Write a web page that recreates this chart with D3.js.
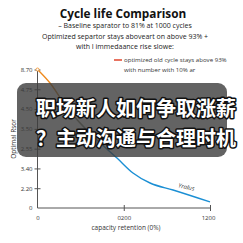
<!DOCTYPE html>
<html><head><meta charset="utf-8">
<script src="https://cdn.jsdelivr.net/npm/d3@7"></script>
<style>html,body{margin:0;padding:0;background:#fff;}svg{display:block;}</style>
</head><body>
<svg id="c" width="243" height="243"></svg>
<script>
const titleText = "Cycle life Comparison";
const subtitleLines = ["– Baseline sparator to 81% at 1000 cycles", "Optimized separtor stays aboveart on above 93% +", "with I immedaance rise slowe:"];
const legendLines = ["optimized old cycle stays above 93%", "with number with 10% ar"];
const yTickLabels = ["0", "2.20", "3.40", "2.55", "3.50", "4.50", "4.75", "8.70"];
const xTickValues = [0, 600, 1200];
const xTickLabels = ["0", "0200", "1200"];
const cycles = [0, 87, 205, 414, 553, 664, 783, 943, 1200];
const resistance = [8.7, 7.85, 6.3, 4.27, 3.14, 2.2, 1.57, 1.13, 0.38];
const xLabel = "capacity retention (0%)";
const yLabel = "Optimal Rsor";
const curveLabel = "Yralus";
const overlayLines = ["职场新人如何争取涨薪", "？主动沟通与合理时机"];

const svg = d3.select("#c");
const font = "'Open Sans', 'Noto Sans', sans-serif";
const x = d3.scaleLinear().domain([0, 1200]).range([37.5, 210]);
const y = d3.scaleLinear().domain([0, 8.7]).range([208, 69.5]);
const yTickValues = yTickLabels.map((d, i) => i * 8.7 / (yTickLabels.length - 1));

// title
svg.append("text").attr("x", 123).attr("y", 18).attr("text-anchor", "middle")
  .attr("font-family", font).attr("font-weight", "bold").attr("font-size", 11.8).attr("fill", "#111").text(titleText);
const subY = [27.5, 39, 49];
subtitleLines.forEach((t, i) => svg.append("text").attr("x", 125).attr("y", subY[i]).attr("text-anchor", "middle")
  .attr("font-family", font).attr("font-size", 7).attr("fill", "#222").text(t));

// legend
svg.append("line").attr("x1", 114).attr("x2", 122).attr("y1", 60).attr("y2", 60).attr("stroke", "#e0442c").attr("stroke-width", 1.5);
legendLines.forEach((t, i) => svg.append("text").attr("x", 124).attr("y", 62 + i * 10)
  .attr("font-family", font).attr("font-size", 6.1).attr("fill", "#333").text(t));

// axes
const yAxis = d3.axisLeft(y).tickValues(yTickValues).tickFormat((d, i) => yTickLabels[i]).tickSize(3).tickPadding(2);
const gy = svg.append("g").attr("transform", "translate(37.5,0)").call(yAxis);
const xAxis = d3.axisBottom(x).tickValues(xTickValues).tickFormat((d, i) => xTickLabels[i]).tickSize(3).tickPadding(5);
const gx = svg.append("g").attr("transform", "translate(0,208)").call(xAxis);
[gx, gy].forEach(g => {
  g.select(".domain").attr("stroke", "#555");
  g.selectAll(".tick line").attr("stroke", "#555");
  g.selectAll("text").attr("font-family", font).attr("font-size", 6).attr("fill", "#333");
});
gy.selectAll(".tick line").attr("x1", 3).attr("x2", -3);
gy.selectAll(".tick").filter((d, i) => i === 0).select("line").remove();
gx.selectAll(".tick line").attr("y1", -3).attr("y2", 3);
gx.selectAll(".tick").filter((d, i) => i === 0).select("line").remove();
gx.selectAll(".tick").filter((d, i) => i === 2).select("text").attr("dx", -2);
gx.select(".domain").attr("d", `M${x(0)},0H${x(1200)}`);
gy.select(".domain").attr("d", `M0,${y(0)}V${y(8.7)}`);

svg.append("text").attr("x", 126).attr("y", 229.5).attr("text-anchor", "middle")
  .attr("font-family", font).attr("font-size", 6.5).attr("fill", "#333").text(xLabel);
svg.append("text").attr("transform", "translate(16,139) rotate(-90)").attr("text-anchor", "middle")
  .attr("font-family", font).attr("font-size", 6.5).attr("fill", "#333").text(yLabel);

// gradient line
const defs = svg.append("defs");
const grad = defs.append("linearGradient").attr("id", "lg").attr("gradientUnits", "userSpaceOnUse")
  .attr("x1", 50).attr("y1", 0).attr("x2", 112).attr("y2", 0);
grad.append("stop").attr("offset", "0").attr("stop-color", "#ee8a1e");
grad.append("stop").attr("offset", "1").attr("stop-color", "#1b8fd4");
const pts = cycles.map((c, i) => [c, resistance[i]]);
svg.append("path").datum(pts)
  .attr("d", d3.line().x(d => x(d[0])).y(d => y(d[1])).curve(d3.curveMonotoneX))
  .attr("fill", "none").attr("stroke", "url(#lg)").attr("stroke-width", 1.4);
svg.append("circle").attr("cx", x(cycles[0])).attr("cy", y(resistance[0])).attr("r", 1.5)
  .attr("fill", "#fff").attr("stroke", "#ee8a1e").attr("stroke-width", 0.8);
svg.append("text").attr("transform", "translate(186,189) rotate(12)").attr("text-anchor", "middle")
  .attr("font-family", font).attr("font-size", 6).attr("font-style", "italic").attr("fill", "#333").text(curveLabel);

// overlay
svg.append("rect").attr("x", 17).attr("y", 83).attr("width", 210).attr("height", 74).attr("rx", 9)
  .attr("fill", "rgba(60,60,60,0.8)");
const oy = [116, 146];
overlayLines.forEach((t, i) => svg.append("text").attr("x", 36).attr("y", oy[i])
  .attr("font-family", "'Noto Sans CJK SC', sans-serif").attr("font-weight", "bold").attr("font-size", 20)
  .attr("fill", "#fff").attr("stroke", "#111").attr("stroke-width", 3).attr("stroke-linejoin", "round")
  .attr("paint-order", "stroke").text(t));
</script>
</body></html>
